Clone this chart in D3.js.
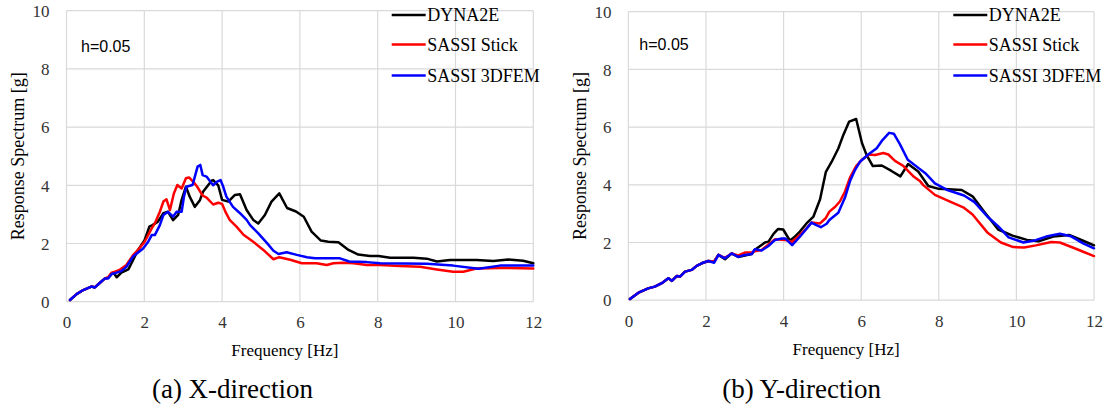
<!DOCTYPE html>
<html><head><meta charset="utf-8">
<script src="https://cdn.jsdelivr.net/npm/d3@7"></script>
<style>body{margin:0;background:#fff}svg{display:block}
.serif{font-family:"Liberation Serif","Times New Roman",Times,"DejaVu Serif",serif}
.sans{font-family:"Liberation Sans",Arial,Helvetica,sans-serif}
</style>
</head><body><svg id="c" width="1109" height="406"></svg>
<script>
// ---------- data ----------
const seriesNames = ["DYNA2E", "SASSI Stick", "SASSI 3DFEM"];
const seriesColors = ["#000000", "#ff0000", "#0000ff"];
const xTicks = [0, 2, 4, 6, 8, 10, 12];
const yTicks = [0, 2, 4, 6, 8, 10];
const captions = ["(a) X-direction", "(b) Y-direction"];
const dampingLabel = "h=0.05";
const xAxisTitle = "Frequency [Hz]";
const yAxisTitle = "Response Spectrum [g]";

// X-direction: [frequency Hz, spectrum g]
const xDyna2e = [[0.09,0.06],[0.26,0.26],[0.43,0.4],[0.64,0.52],[0.73,0.49],[0.86,0.65],[0.99,0.8],[1.07,0.82],[1.16,0.95],[1.22,0.98],[1.29,0.84],[1.41,1.0],[1.59,1.11],[1.67,1.32],[1.84,1.78],[2.01,2.12],[2.13,2.58],[2.21,2.63],[2.35,2.75],[2.49,3.04],[2.61,3.09],[2.74,2.8],[2.87,2.98],[2.96,3.5],[3.07,3.95],[3.17,3.6],[3.3,3.26],[3.43,3.49],[3.51,3.78],[3.73,4.16],[3.77,4.18],[3.9,4.0],[4.0,3.5],[4.16,3.44],[4.33,3.67],[4.46,3.69],[4.63,3.15],[4.8,2.81],[4.93,2.69],[5.1,2.98],[5.27,3.44],[5.47,3.72],[5.67,3.22],[5.9,3.1],[6.1,2.92],[6.3,2.41],[6.54,2.1],[6.73,2.06],[6.99,2.04],[7.25,1.78],[7.5,1.62],[7.8,1.57],[8.02,1.57],[8.32,1.51],[8.92,1.51],[9.26,1.48],[9.52,1.38],[9.86,1.43],[10.54,1.43],[10.97,1.40],[11.36,1.45],[11.74,1.41],[12.0,1.32]];
const xStick = [[0.09,0.06],[0.26,0.26],[0.43,0.4],[0.64,0.52],[0.73,0.5],[0.86,0.65],[0.99,0.8],[1.07,0.84],[1.16,1.0],[1.24,1.03],[1.35,1.08],[1.54,1.26],[1.71,1.6],[1.84,1.78],[2.01,2.06],[2.19,2.52],[2.27,2.69],[2.4,3.09],[2.49,3.44],[2.57,3.52],[2.66,3.15],[2.76,3.72],[2.85,4.01],[2.96,3.89],[3.07,4.24],[3.15,4.27],[3.26,4.12],[3.35,3.97],[3.5,3.65],[3.6,3.58],[3.77,3.34],[3.9,3.4],[4.0,3.36],[4.1,3.05],[4.2,2.8],[4.37,2.58],[4.55,2.3],[4.8,2.06],[5.06,1.78],[5.32,1.46],[5.47,1.53],[5.75,1.44],[6.05,1.32],[6.43,1.32],[6.69,1.26],[6.86,1.32],[7.12,1.34],[7.38,1.32],[7.72,1.26],[8.06,1.26],[8.57,1.23],[9.09,1.2],[9.52,1.11],[9.94,1.03],[10.2,1.03],[10.54,1.14],[11.14,1.16],[12.0,1.14]];
const x3dfem = [[0.09,0.06],[0.26,0.26],[0.43,0.4],[0.64,0.52],[0.73,0.49],[0.86,0.65],[0.99,0.8],[1.07,0.8],[1.16,0.95],[1.29,1.0],[1.41,1.05],[1.54,1.2],[1.71,1.55],[1.97,1.83],[2.1,2.06],[2.19,2.29],[2.27,2.29],[2.4,2.63],[2.49,2.98],[2.61,3.09],[2.74,2.92],[2.83,3.09],[2.96,3.09],[3.02,3.61],[3.08,3.95],[3.24,4.01],[3.3,4.3],[3.37,4.64],[3.44,4.7],[3.5,4.35],[3.6,4.3],[3.7,4.12],[3.77,4.0],[3.86,4.12],[3.96,4.18],[4.03,3.95],[4.11,3.61],[4.28,3.26],[4.46,3.04],[4.63,2.81],[4.72,2.63],[4.93,2.35],[5.15,2.02],[5.32,1.75],[5.45,1.64],[5.66,1.7],[5.92,1.61],[6.18,1.53],[6.39,1.49],[7.03,1.49],[7.27,1.38],[7.72,1.36],[8.06,1.32],[9.26,1.30],[9.94,1.24],[10.59,1.13],[11.14,1.24],[12.0,1.24]];

// Y-direction
const yDyna2e = [[0.04,0.04],[0.26,0.26],[0.51,0.41],[0.68,0.47],[0.86,0.59],[1.03,0.76],[1.12,0.67],[1.25,0.84],[1.33,0.82],[1.46,0.99],[1.63,1.05],[1.76,1.19],[1.89,1.28],[2.06,1.36],[2.21,1.34],[2.32,1.57],[2.49,1.42],[2.66,1.62],[2.83,1.5],[3.0,1.55],[3.18,1.6],[3.26,1.75],[3.52,2.0],[3.61,2.03],[3.74,2.3],[3.86,2.47],[3.99,2.45],[4.16,2.07],[4.29,2.2],[4.42,2.38],[4.59,2.66],[4.77,2.9],[4.94,3.5],[5.09,4.45],[5.24,4.8],[5.41,5.26],[5.54,5.73],[5.69,6.19],[5.87,6.28],[6.02,5.45],[6.14,5.03],[6.3,4.65],[6.53,4.67],[6.78,4.48],[7.01,4.29],[7.21,4.72],[7.47,4.46],[7.73,3.96],[8.0,3.86],[8.59,3.82],[8.87,3.6],[9.15,3.1],[9.53,2.45],[9.9,2.24],[10.27,2.09],[10.57,2.04],[10.95,2.21],[11.36,2.26],[11.72,2.06],[12.0,1.9]];
const yStick = [[0.04,0.04],[0.26,0.26],[0.51,0.41],[0.68,0.47],[0.86,0.59],[1.03,0.76],[1.12,0.67],[1.25,0.84],[1.33,0.82],[1.46,0.99],[1.63,1.05],[1.76,1.19],[1.89,1.28],[2.06,1.36],[2.21,1.34],[2.32,1.57],[2.49,1.47],[2.66,1.62],[2.83,1.55],[3.0,1.65],[3.18,1.65],[3.26,1.7],[3.43,1.74],[3.78,2.11],[4.04,2.09],[4.21,2.02],[4.42,2.26],[4.59,2.49],[4.72,2.69],[4.94,2.66],[5.09,2.85],[5.18,3.07],[5.33,3.24],[5.45,3.42],[5.58,3.76],[5.71,4.25],[5.87,4.65],[6.01,4.86],[6.2,5.05],[6.36,5.03],[6.57,5.1],[6.7,5.05],[6.87,4.83],[7.09,4.65],[7.34,4.3],[7.52,4.12],[7.6,3.99],[7.9,3.65],[8.29,3.42],[8.63,3.22],[8.87,2.97],[9.25,2.35],[9.6,2.0],[9.92,1.84],[10.2,1.83],[10.5,1.9],[10.9,2.02],[11.12,2.0],[11.5,1.8],[11.72,1.68],[12.0,1.53]];
const y3dfem = [[0.04,0.04],[0.26,0.26],[0.51,0.41],[0.68,0.47],[0.86,0.59],[1.03,0.76],[1.12,0.67],[1.25,0.84],[1.33,0.82],[1.46,0.99],[1.63,1.05],[1.76,1.19],[1.89,1.28],[2.06,1.36],[2.21,1.3],[2.32,1.57],[2.49,1.45],[2.66,1.62],[2.83,1.5],[3.0,1.57],[3.18,1.6],[3.26,1.77],[3.43,1.72],[3.61,1.88],[3.78,2.09],[3.95,2.14],[4.04,2.14],[4.22,1.91],[4.42,2.2],[4.72,2.69],[4.83,2.61],[4.96,2.53],[5.11,2.65],[5.18,2.78],[5.41,3.03],[5.58,3.55],[5.71,4.12],[5.84,4.51],[5.97,4.8],[6.18,5.05],[6.4,5.27],[6.53,5.52],[6.72,5.8],[6.84,5.77],[7.0,5.4],[7.2,4.87],[7.43,4.63],[7.67,4.38],[7.9,4.05],[8.2,3.83],[8.65,3.63],[8.92,3.4],[9.25,2.9],[9.54,2.55],[9.8,2.18],[10.18,2.0],[10.5,2.08],[10.8,2.22],[11.12,2.3],[11.4,2.22],[11.72,1.97],[12.0,1.8]];

// ---------- layout ----------
const panels = [
  {series: [xDyna2e, xStick, x3dfem], caption: captions[0],
   left: 66.5, right: 533.3, top: 10.7, bottom: 301.7, hX: 81, hY: 51.7, legX: 391.7, capX: 232.5},
  {series: [yDyna2e, yStick, y3dfem], caption: captions[1],
   left: 628.4, right: 1094, top: 11.7, bottom: 300.2, hX: 639.3, hY: 49.5, legX: 953.3, capX: 801.7}
];

const svg = d3.select("#c");
const gridColor = "#d9d9d9";

panels.forEach(p => {
  const x = d3.scaleLinear().domain([0, 12]).range([p.left, p.right]);
  const y = d3.scaleLinear().domain([0, 10]).range([p.bottom, p.top]);
  const g = svg.append("g");

  // gridlines
  g.append("g").selectAll("line").data(xTicks).join("line")
    .attr("x1", d => x(d)).attr("x2", d => x(d))
    .attr("y1", p.top).attr("y2", p.bottom)
    .attr("stroke", gridColor).attr("stroke-width", 1.2);
  g.append("g").selectAll("line").data(yTicks).join("line")
    .attr("x1", p.left).attr("x2", p.right)
    .attr("y1", d => y(d)).attr("y2", d => y(d))
    .attr("stroke", gridColor).attr("stroke-width", 1.2);

  // axes (labels via d3 axes)
  const xa = g.append("g").attr("transform", `translate(0,${p.bottom})`)
    .call(d3.axisBottom(x).tickValues(xTicks).tickSize(0).tickPadding(20).tickFormat(d3.format("d")));
  const ya = g.append("g").attr("transform", `translate(${p.left},0)`)
    .call(d3.axisLeft(y).tickValues(yTicks).tickSize(0).tickPadding(17).tickFormat(d3.format("d")));
  [xa, ya].forEach(a => {
    a.select(".domain").remove();
    a.attr("font-family", null).attr("font-size", null);
    a.selectAll("text").attr("class", "serif").style("font-size", "17px").attr("fill", "#333");
  });
  xa.selectAll("text").attr("dy", "0").attr("y", 26.5);
  ya.selectAll("text").attr("dy", "0.34em");

  // data lines
  const line = d3.line().x(d => x(d[0])).y(d => y(d[1]));
  p.series.forEach((s, i) => {
    g.append("path").datum(s).attr("d", line)
      .attr("fill", "none").attr("stroke", seriesColors[i])
      .attr("stroke-width", 2.5).attr("stroke-linejoin", "round").attr("stroke-linecap", "round");
  });

  // h label
  g.append("text").attr("class", "sans").attr("x", p.hX).attr("y", p.hY).text(dampingLabel)
    .style("font-size", "16px").attr("fill", "#000");

  // legend
  const legRows = [15, 44.5, 75.5];
  seriesNames.forEach((n, i) => {
    g.append("line").attr("x1", p.legX).attr("x2", p.legX + 34)
      .attr("y1", legRows[i]).attr("y2", legRows[i])
      .attr("stroke", seriesColors[i]).attr("stroke-width", 2.6);
    g.append("text").attr("class", "serif").attr("x", p.legX + 35.5).attr("y", legRows[i] + 6)
      .text(n).style("font-size", "18px").attr("fill", "#000");
  });

  // axis titles
  g.append("text").attr("class", "serif").attr("x", (p.left + p.right) / 2 - 15).attr("y", p.bottom + 54.5)
    .attr("text-anchor", "middle").text(xAxisTitle)
    .style("font-size", "17px").attr("fill", "#000");
  g.append("text").attr("class", "serif")
    .attr("transform", `translate(${p.left - 42.5},${(p.top + p.bottom) / 2}) rotate(-90)`)
    .attr("text-anchor", "middle").text(yAxisTitle)
    .style("font-size", "18px").attr("fill", "#000");

  // caption
  g.append("text").attr("class", "serif").attr("x", p.capX).attr("y", 398).attr("text-anchor", "middle")
    .text(p.caption).style("font-size", "27px").attr("fill", "#000");
});
</script></body></html>
